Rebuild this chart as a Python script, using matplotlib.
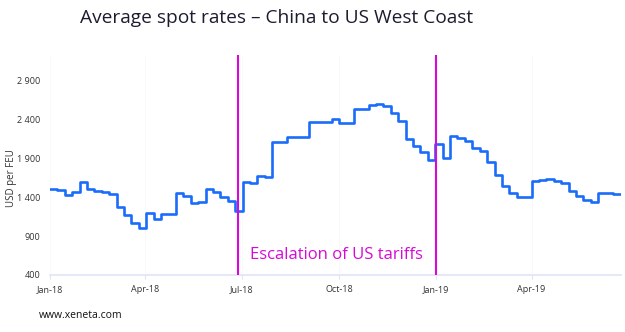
import numpy as np
import pandas as pd
import matplotlib
matplotlib.use("Agg")
import matplotlib.pyplot as plt
import matplotlib.dates as mdates
from matplotlib.ticker import FuncFormatter

# weekly average spot rate, USD per FEU
first_week = "2018-01-01"
rates = [1509, 1495, 1430, 1463, 1600, 1510, 1480, 1470, 1441, 1280,
         1170, 1075, 1005, 1195, 1116, 1184, 1184, 1455, 1410, 1325,
         1345, 1510, 1470, 1400, 1350, 1226, 1590, 1578, 1670, 1655,
         2115, 2115, 2170, 2170, 2170, 2362, 2362, 2362, 2410, 2349,
         2349, 2533, 2533, 2590, 2597, 2580, 2480, 2380, 2150, 2060,
         1980, 1885, 2090, 1900, 2186, 2160, 2130, 2028, 2000, 1850,
         1680, 1540, 1460, 1400, 1405, 1615, 1620, 1640, 1608, 1580,
         1480, 1420, 1370, 1342, 1458, 1455, 1437, 1437]
tariff_dates = ["2018-06-28", "2019-01-01"]
tariff_label = "Escalation of US tariffs"
x_ticks = ["2018-01-01", "2018-04-01", "2018-07-01", "2018-10-01", "2019-01-01", "2019-04-01"]
y_ticks = [400, 900, 1400, 1900, 2400, 2900]

weeks = pd.date_range(first_week, periods=len(rates), freq="7D")

plt.rcParams['font.family'] = ['Open Sans', 'DejaVu Sans']

fig = plt.figure(figsize=(6.25, 3.32), dpi=100)
ax = fig.add_axes([0.08, 0.1717, 0.9136, 0.6626])

ax.plot(weeks, rates, drawstyle="steps-post", color="#1a6cfa", lw=1.9,
        solid_joinstyle="round", zorder=3)

for d in tariff_dates:
    ax.axvline(pd.Timestamp(d), color="#d60ad6", lw=1.5, zorder=4)
ax.text(pd.Timestamp(tariff_dates[0]) + pd.Timedelta(days=11), 655, tariff_label,
        color="#d60ad6", fontsize=12, va="center", ha="left")

ax.set_xlim(pd.Timestamp(first_week), weeks[-1] + pd.Timedelta(days=0.5))
ax.set_ylim(400, 3230)
ax.set_yticks(y_ticks)
ax.yaxis.set_major_formatter(FuncFormatter(lambda v, p: f"{int(v):,}".replace(",", " ")))
ax.set_xticks(pd.to_datetime(x_ticks))
ax.xaxis.set_major_formatter(mdates.DateFormatter("%b-%y"))

for s in ["top", "right", "left"]:
    ax.spines[s].set_visible(False)
ax.spines["bottom"].set_color("#dfe4f7")
ax.spines["bottom"].set_linewidth(1.2)
ax.tick_params(axis="y", length=0, pad=7, labelsize=6.5, labelcolor="#333333")
ax.tick_params(axis="x", length=3, color="#dfe4f7", pad=4, labelsize=6.5, labelcolor="#333333")
ax.grid(axis="x", color="#f7f7f9", lw=0.5)
ax.set_axisbelow(True)

ax.set_ylabel("USD per FEU", fontsize=7, color="#333333")
ax.yaxis.set_label_coords(-0.058, 0.44)

fig.text(0.128, 0.946, "Average spot rates \u2013 China to US West Coast",
         fontsize=13.8, color="#1c1c30", ha="left", va="center")
fig.text(0.062, 0.05, "www.xeneta.com", fontsize=7.5, color="#111111", ha="left", va="center")

fig.savefig("out.png", dpi=100)
